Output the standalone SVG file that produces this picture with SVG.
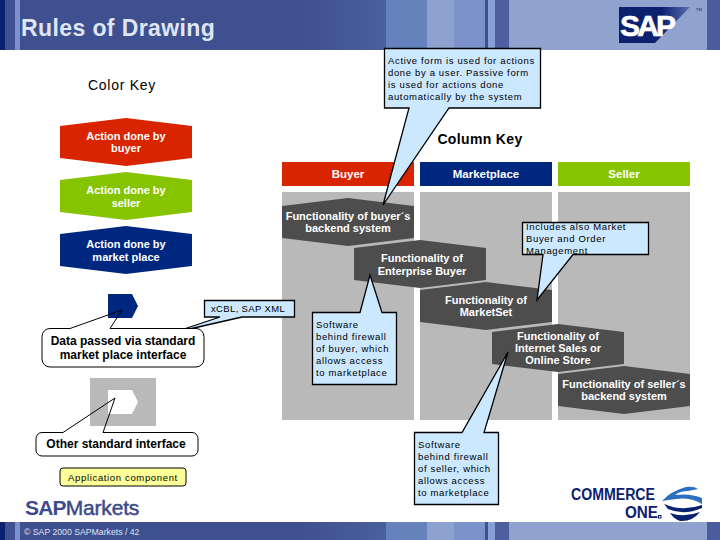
<svg xmlns="http://www.w3.org/2000/svg" width="720" height="540" viewBox="0 0 720 540">
<style>
text{font-family:"Liberation Sans",Arial,sans-serif;text-anchor:middle}
.w{fill:#fff;font-size:11px;font-weight:bold}
.k{fill:#000;font-size:12px;font-weight:bold}
.n{fill:#000;font-size:9.5px;letter-spacing:.65px;text-anchor:start}
.c{fill:#cbe8ff;stroke:#000;stroke-width:1.3}
.f{fill:#4d4d4d}
.g{fill:#b9b9b9}
.o{fill:none;stroke:#000;stroke-width:1}
</style>
<defs>
<g id="band">
<rect x="0" width="720" height="100" fill="#3f5090"/>
<rect x="0" width="5" height="100" fill="#0b2170"/>
<rect x="15" width="5" height="100" fill="#7b92cc"/>
<rect x="386" width="41" height="100" fill="#6582bd"/>
<rect x="427" width="27" height="100" fill="#8ea2d0"/>
<rect x="454" width="31" height="100" fill="#7b93ca"/>
<rect x="485" width="3" height="100" fill="#3f5090"/>
<rect x="488" width="7" height="100" fill="#87a0d6"/>
<rect x="495" width="14" height="100" fill="#4d5f9f"/>
<rect x="509" width="198" height="100" fill="#8fa3ce"/>
<rect x="707" width="13" height="100" fill="#4a5c9e"/>
</g>
<linearGradient id="hd" x1="0" x2="1" y1="0" y2="0"><stop offset="0" stop-color="#3f5090"/><stop offset="1" stop-color="#4a5f9e"/></linearGradient>
<linearGradient id="sap" x1="619" x2="690" y1="0" y2="0" gradientUnits="userSpaceOnUse"><stop offset="0" stop-color="#0b2170"/><stop offset=".6" stop-color="#0b2170"/><stop offset="1" stop-color="#5a70b0"/></linearGradient>
</defs>

<g id="header">
<svg x="0" y="0" width="720" height="50"><use href="#band"/></svg>
<rect x="300" width="86" height="50" fill="url(#hd)"/>
<text x="21" y="36" style="text-anchor:start;font-size:23px;font-weight:bold;letter-spacing:.4px" fill="#dfe6f2">Rules of Drawing</text>
<polygon points="619,7 690,7 655,43 619,43" fill="url(#sap)"/>
<text x="620" y="36" style="text-anchor:start;font-size:30px;font-weight:bold;letter-spacing:-2.800px" fill="#fff" stroke="#fff" stroke-width=".6">SAP</text>
<text x="699" y="11" style="font-size:4px" fill="#0b2170">TM</text>
</g>
<g id="footer">
<svg x="0" y="522" width="720" height="18"><use href="#band"/></svg>
<rect x="300" y="522" width="86" height="18" fill="url(#hd)"/>
<text x="24" y="535" style="text-anchor:start;font-size:8.700px" fill="#dbe2f2">© SAP 2000 SAPMarkets / 42</text>
</g>

<text id="color-key" x="122" y="90" style="font-size:14px;letter-spacing:.75px">Color Key</text>
<text id="column-key" x="480" y="144" style="font-size:14px;font-weight:bold;letter-spacing:.35px">Column Key</text>

<g id="key-buyer"><polygon points="60,126 126,118 192,126 192,158 126,166 60,158" fill="#d92400"/><text class="w" x="126" y="140">Action done by</text><text class="w" x="126" y="152">buyer</text></g>
<g id="key-seller"><polygon points="60,180 126,172 192,180 192,212 126,220 60,212" fill="#86c400"/><text class="w" x="126" y="194">Action done by</text><text class="w" x="126" y="207">seller</text></g>
<g id="key-market"><polygon points="60,234 126,226 192,234 192,266 126,274 60,266" fill="#00277f"/><text class="w" x="126" y="248">Action done by</text><text class="w" x="126" y="261">market place</text></g>

<g id="col-buyer"><rect x="282" y="162" width="132" height="24" fill="#d92400"/><rect class="g" x="282" y="192" width="132" height="228"/><text class="w" x="348" y="178" style="font-size:11.500px">Buyer</text></g>
<g id="col-market"><rect x="420" y="162" width="132" height="24" fill="#00277f"/><rect class="g" x="420" y="192" width="132" height="228"/><text class="w" x="486" y="178" style="font-size:11.500px">Marketplace</text></g>
<g id="col-seller"><rect x="558" y="162" width="132" height="24" fill="#86c400"/><rect class="g" x="558" y="192" width="132" height="228"/><text class="w" x="624" y="178" style="font-size:11.500px">Seller</text></g>

<g id="fn-buyer"><polygon class="f" points="282,206 348,198 414,206 414,238 348,246 282,238"/><text class="w" x="348" y="220">Functionality of buyer´s</text><text class="w" x="348" y="232">backend system</text></g>
<g id="fn-enterprise"><polygon class="f" points="354,248 420,240 486,248 486,280 420,288 354,280"/><text class="w" x="422" y="262">Functionality of</text><text class="w" x="422" y="275">Enterprise Buyer</text></g>
<g id="fn-marketset"><polygon class="f" points="420,290 486,282 552,290 552,322 486,330 420,322"/><text class="w" x="486" y="304">Functionality of</text><text class="w" x="486" y="316">MarketSet</text></g>
<g id="fn-internet"><polygon class="f" points="492,332 558,324 624,332 624,364 558,372 492,364"/><text class="w" x="558" y="340">Functionality of</text><text class="w" x="558" y="352">Internet Sales or</text><text class="w" x="558" y="364">Online Store</text></g>
<g id="fn-seller"><polygon class="f" points="558,374 624,366 690,374 690,406 624,414 558,406"/><text class="w" x="624" y="388">Functionality of seller´s</text><text class="w" x="624" y="400">backend system</text></g>

<g id="connectors">
<polygon points="108,294 132,294 138,306 132,318 108,318" fill="#00277f"/>
<rect class="g" x="90" y="378" width="66" height="48"/>
<polygon points="108,390 132,390 138,402 132,414 108,414" fill="#fff"/>
</g>

<g id="note-active"><path class="c" d="M384.500,48.500H540.500V108H449L383,205L409,108H384.500Z"/>
<text class="n" x="388" y="64">Active form is used for actions</text><text class="n" x="388" y="76">done by a user. Passive form</text><text class="n" x="388" y="88">is used for actions done</text><text class="n" x="388" y="100">automatically by the system</text></g>

<g id="note-includes"><path class="c" d="M522.500,222.500H648.500V254.500H573L537,300L543,254.500H522.500Z"/>
<text class="n" x="526" y="230">Includes also Market</text><text class="n" x="526" y="242">Buyer and Order</text><text class="n" x="526" y="254">Management</text></g>

<g id="note-buyer-fw"><path class="c" d="M312.500,312.500H360L370,275L382,312.500H396.500V384.500H312.500Z"/>
<text class="n" x="316" y="328">Software</text><text class="n" x="316" y="340">behind firewall</text><text class="n" x="316" y="352">of buyer, which</text><text class="n" x="316" y="364">allows access</text><text class="n" x="316" y="376">to marketplace</text></g>

<g id="note-seller-fw"><path class="c" d="M414.500,432.500H462L508,352L484,432.500H498.500V504.500H414.500Z"/>
<text class="n" x="418" y="448">Software</text><text class="n" x="418" y="460">behind firewall</text><text class="n" x="418" y="472">of seller, which</text><text class="n" x="418" y="484">allows access</text><text class="n" x="418" y="496">to marketplace</text></g>

<g id="note-xcbl"><path class="c" d="M204.500,300.500H294.500V317H242L172,333L220,317H204.500Z"/>
<text class="n" x="211" y="312" style="letter-spacing:.35px">xCBL, SAP XML</text></g>

<g id="note-data"><rect x="42.500" y="328.500" width="161.500" height="38.500" rx="8" fill="#fff"/><path class="o" d="M50,328.500H70L122,310L110,328.500H196a8,8 0 0 1 8,8V359a8,8 0 0 1-8,8H50a8,8 0 0 1-8-8V336.500a8,8 0 0 1 8-8Z"/>
<text class="k" x="123" y="345">Data passed via standard</text><text class="k" x="123" y="359">market place interface</text></g>

<g id="note-other"><rect x="36.500" y="432.500" width="161.500" height="23.500" rx="6" fill="#fff"/><path class="o" d="M42,432.500H63L115,398L103,432.500H192a6,6 0 0 1 6,6V450a6,6 0 0 1-6,6H42a6,6 0 0 1-6-6V438.500a6,6 0 0 1 6-6Z"/>
<text class="k" x="116" y="448">Other standard interface</text></g>

<g id="legend-app"><rect x="60" y="468" width="126" height="18" rx="3" fill="#ffff99" stroke="#000"/><text x="123" y="481" style="font-size:9.500px;letter-spacing:.65px">Application component</text></g>

<g id="logo-sapmarkets"><text x="25" y="515" style="text-anchor:start;font-size:21px;font-weight:bold;letter-spacing:-.8px" fill="#3b4b8c">SAP<tspan font-weight="normal" style="font-weight:normal;letter-spacing:-.2px" stroke="#3b4b8c" stroke-width=".5">Markets</tspan></text></g>

<g id="logo-commerce">
<text x="571" y="500" textLength="84" lengthAdjust="spacingAndGlyphs" style="text-anchor:start;font-size:16px;font-weight:bold" fill="#0b2170">COMMERCE</text>
<text x="625" y="518" textLength="33" lengthAdjust="spacingAndGlyphs" style="text-anchor:start;font-size:16px;font-weight:bold" fill="#0b2170">ONE</text>
<rect x="658.500" y="515.500" width="2.500" height="2.500" fill="none" stroke="#0b2170"/>
<path d="M662,501Q671,491 686,487Q694,486 698,489L688,491Q680,491 675,495Q690,493 702,498V504Q690,497 676,499Q668,500 662,501Z" fill="#2a6fc0"/>
<path d="M664,504Q682,512 702,505V508Q684,516 668,509Z" fill="#0b2170"/>
<path d="M670,513Q684,518 700,512Q692,522 680,521Q674,519 670,513Z" fill="#0b2170"/>
</g>
</svg>
